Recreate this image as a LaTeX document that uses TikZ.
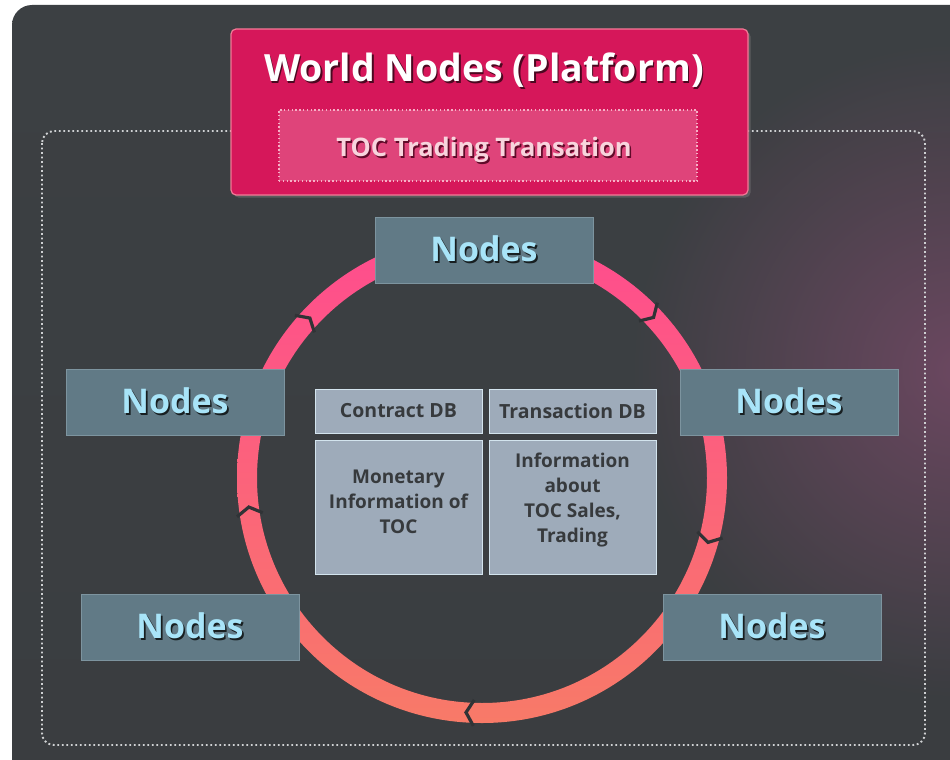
\documentclass[tikz,border=0pt]{standalone}
\usepackage{fontspec}
\setmainfont{Open Sans}
\usetikzlibrary{shadows,fadings,calc}

\definecolor{bgtop}{HTML}{3C4043}
\definecolor{bgmid}{HTML}{303336}
\definecolor{bgbot}{HTML}{3A3D40}
\definecolor{glow}{HTML}{6E4862}
\definecolor{frame}{HTML}{CFD1D3}
\definecolor{platfill}{HTML}{D6175A}
\definecolor{platedge}{HTML}{F27A96}
\definecolor{tocfill}{HTML}{DF447A}
\definecolor{tocedge}{HTML}{F6B0C6}
\definecolor{toctext}{HTML}{F8D4DD}
\definecolor{ringtop}{HTML}{FF4C8E}
\definecolor{ringmid}{HTML}{FF6478}
\definecolor{ringbot}{HTML}{F87A68}
\definecolor{nodefill}{HTML}{617A86}
\definecolor{nodeedge}{HTML}{7D949F}
\definecolor{nodetext}{HTML}{A8E4F8}
\definecolor{dbfill}{HTML}{9EABBA}
\definecolor{dbedge}{HTML}{D3E4EE}
\definecolor{dbtext}{HTML}{373A3D}

\tikzfading[name=softglow, inner color=transparent!0, outer color=transparent!100]

% text with a small offset shadow behind it
\newcommand\shtxt[3]{\makebox[0pt][l]{\hspace{1.6pt}\raisebox{-1.6pt}{\color{#2}#3}}{\color{#1}#3}}

\tikzset{
  peer/.style={draw=nodeedge, line width=0.8pt, fill=nodefill,
    minimum width=218pt, minimum height=66pt, inner sep=0pt,
    font=\fontsize{34}{40}\selectfont\bfseries},
  dbhead/.style={draw=dbedge, line width=0.8pt, fill=dbfill,
    minimum width=167pt, minimum height=44pt, inner sep=0pt,
    text=dbtext, font=\fontsize{19.5}{22}\selectfont\bfseries},
  dbbody/.style={draw=dbedge, line width=0.8pt, fill=dbfill,
    minimum width=167pt, minimum height=134pt, inner sep=0pt},
  dbtxt/.style={text=dbtext, align=center,
    font=\fontsize{19}{25.3}\selectfont\bfseries},
  gap/.style={draw=bgmid, line width=3.2pt, line join=miter}
}

\begin{document}
\begin{tikzpicture}[x=1pt,y=-1pt]
\useasboundingbox (0,0) rectangle (950,760);
\fill[white] (0,0) rectangle (950,760);

% dark panel with a soft glow on the right
\begin{scope}
  \clip[rounded corners=20pt] (12,5) rectangle (975,785);
  \shade[top color=bgtop, middle color=bgmid, bottom color=bgbot] (0,0) rectangle (980,790);
  \fill[glow, path fading=softglow, fill opacity=0.95] (960,370) circle (330);
\end{scope}

% dotted frame
\draw[frame, line width=1.9pt, dash pattern=on 1.9pt off 2.6pt, rounded corners=12pt]
  (42,131) rectangle (925,745);

% ring of peers
\coordinate (c) at (482,478);
\shade[top color=ringtop, middle color=ringmid, bottom color=ringbot, even odd rule]
  (c) circle (245) (c) circle (225);
\foreach \a in {-139,-45,14,92,171}{
  \draw[gap] ($(c)+(\a:248)$) -- ($(c)+(\a+1.9:235)$) -- ($(c)+(\a:222)$);
}

% platform box
\node[draw=platedge, line width=1.2pt, fill=platfill, rounded corners=5pt,
  minimum width=517pt, minimum height=166pt, inner sep=0pt,
  drop shadow={shadow xshift=2.5pt, shadow yshift=-2.5pt, opacity=0.45}]
  (platform) at (489.5,112) {};
\node[font=\fontsize{37.5}{44}\selectfont\bfseries] (title) at (484,71)
  {\shtxt{white}{black!65!platfill}{World Nodes (Platform)}};
\node[fill=tocfill, draw=tocedge, line width=1.4pt, dash pattern=on 1.4pt off 2.4pt,
  minimum width=418pt, minimum height=71pt, inner sep=0pt] (toc) at (488,145.5) {};
\node[font=\fontsize{25.5}{30}\selectfont\bfseries] (toclabel) at (484,151)
  {\shtxt{toctext}{black!55!platfill}{TOC Trading Transation}};

% peer nodes
\node[peer] (ntop) at (484,250) {\shtxt{nodetext}{black!75!nodefill}{Nodes}};
\node[peer] (nleft) at (175,402) {\shtxt{nodetext}{black!75!nodefill}{Nodes}};
\node[peer] (nright) at (789,402) {\shtxt{nodetext}{black!75!nodefill}{Nodes}};
\node[peer] (nbl) at (190,627) {\shtxt{nodetext}{black!75!nodefill}{Nodes}};
\node[peer] (nbr) at (772,627) {\shtxt{nodetext}{black!75!nodefill}{Nodes}};

% databases
\node[dbhead] (contract) at (398.5,411) {Contract DB};
\node[dbhead] (transaction) at (572.5,411) {Transaction DB};
\node[dbbody] (monetary) at (398.5,507) {};
\node[dbbody] (info) at (572.5,507) {};
\node[dbtxt] (monetarytxt) at (398.5,502) {Monetary\\Information of\\TOC};
\node[dbtxt] (infotxt) at (572.5,500) {Information\\about\\TOC Sales,\\Trading};
\end{tikzpicture}
\end{document}
